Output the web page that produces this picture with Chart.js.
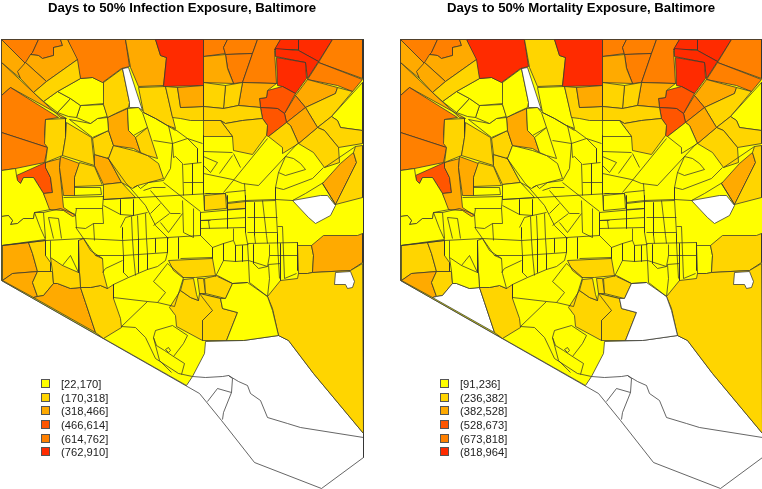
<!DOCTYPE html>
<html>
<head>
<meta charset="utf-8">
<title>Days to 50% Exposure, Baltimore</title>
<script src="https://cdn.jsdelivr.net/npm/chart.js@4/dist/chart.umd.min.js"></script>
<style>
    html, body { margin: 0; padding: 0; background: #fff; overflow: hidden; width: 762px; height: 489px; }
    canvas { position: absolute; top: 0; }
    #mapLeft { left: 0; }
    #mapRight { left: 399px; }
    .legend { position: absolute; top: 377px; font: 11.2px "Liberation Sans", Arial, sans-serif; color: #222; }
    .legend div { height: 13.7px; line-height: 14px; white-space: nowrap; }
    .legend i { display: inline-block; width: 7px; height: 7px; border: 1px solid #555; margin-right: 11px; vertical-align: 0; }
</style>
</head>
<body>
<canvas id="mapLeft" width="364" height="489"></canvas>
<canvas id="mapRight" width="364" height="489"></canvas>
<div class="legend" id="legendLeft" style="left:41px"></div>
<div class="legend" id="legendRight" style="left:440px"></div>

<script>
// Tract outlines in map units, painted in this order (x, y, x, y, ...)
const tractShapes = [
    [1,39, 363,39, 363,457, 321,488, 254,462, 221,420, 199,393, 1,280],
    [1,39, 363,39, 363,433, 313,373, 288,340, 278,335, 243,340, 205,341, 204,353, 192,376, 186,385, 1,280],
    [1,39, 38,39, 32,52, 25,63],
    [1,39, 25,63, 18,72, 20,78, 1,62],
    [1,62, 33,92, 60,117, 66,118, 10,87, 1,95],
    [1,95, 10,87, 58,117, 45,119, 44,135, 47,147, 1,132],
    [1,132, 47,147, 44,162, 15,168, 1,170],
    [16,175, 45,162, 45,167, 50,177, 52,192, 43,193, 33,177, 23,177, 20,183, 17,180],
    [1,170, 15,168, 16,175, 17,180, 20,183, 23,177, 33,177, 43,193, 50,209, 34,212, 33,218, 23,218, 17,223, 10,224, 12,220, 8,215, 1,216],
    [1,216, 8,215, 12,220, 10,224, 17,223, 23,218, 33,218, 34,212, 40,228, 45,239, 1,245],
    [45,162, 60,158, 59,167, 63,207, 75,215, 72,216, 63,210, 49,209, 43,193, 52,192, 50,177, 45,167],
    [45,119, 65,118, 65,137, 62,155, 45,162, 47,147, 44,143],
    [66,122, 91,137, 94,165, 62,155, 65,137],
    [60,156, 79,163, 74,177, 74,195, 63,195, 59,167],
    [79,162, 94,166, 102,185, 74,186, 74,177],
    [74,187, 100,187, 101,194, 74,195],
    [94,154, 108,158, 121,182, 103,184, 94,165],
    [92,138, 108,130, 113,145, 108,158, 94,154],
    [113,145, 133,150, 147,155, 158,163, 163,178, 137,185, 132,188, 121,182, 108,158],
    [103,184, 121,182, 135,197, 103,199],
    [107,117, 127,108, 128,130, 135,137, 140,152, 133,148, 113,145, 108,130],
    [127,108, 138,107, 142,112, 147,127, 133,135, 128,130],
    [147,127, 157,158, 147,155, 140,152, 135,137],
    [69,119, 90,123, 97,118, 107,117, 108,130, 92,137],
    [80,105, 103,104, 107,116, 97,118, 90,123, 76,117],
    [57,112, 70,98, 80,105, 76,117, 68,116],
    [43,101, 57,91, 70,98, 57,112],
    [57,91, 80,78, 92,77, 103,82, 104,103, 80,105, 70,98],
    [103,82, 122,68, 129,102, 128,107, 115,113, 107,117, 103,104],
    [122,68, 128,67, 142,110, 138,107, 129,107, 129,102],
    [67,39, 125,39, 129,66, 121,68, 102,82, 92,77, 80,78, 75,60],
    [125,39, 155,39, 160,55, 166,57, 163,85, 138,86, 130,67],
    [155,39, 203,39, 203,85, 163,86, 166,57, 160,55],
    [38,39, 60,39, 62,45, 53,47, 53,55, 42,58, 38,55, 30,54, 32,52],
    [60,39, 67,39, 77,59, 46,81, 25,62, 30,54, 38,55, 42,58, 53,55, 53,47, 62,45],
    [25,62, 46,81, 33,92, 20,78, 17,71],
    [77,59, 80,78, 57,91, 43,101, 33,92, 46,81],
    [203,39, 227,39, 223,47, 225,53, 203,56],
    [227,39, 257,39, 252,53, 225,54, 223,47],
    [225,54, 252,53, 242,82, 233,83, 227,67],
    [203,56, 225,54, 227,68, 233,83, 203,82],
    [257,39, 280,39, 274,50, 276,83, 242,82, 252,53],
    [280,39, 298,39, 298,49, 274,49],
    [298,39, 332,39, 318,61, 298,50],
    [275,48, 298,50, 318,61, 307,78, 305,62, 275,56],
    [276,57, 305,62, 306,78, 295,93, 282,86, 277,85],
    [332,39, 362,39, 362,78, 318,62],
    [318,62, 362,79, 352,91, 337,85, 307,79],
    [307,79, 337,87, 335,93, 305,107, 295,95],
    [337,87, 352,91, 331,116, 317,127, 305,107, 335,93],
    [362,82, 362,130, 340,127, 337,120, 331,116],
    [331,116, 337,120, 340,127, 362,130, 362,143, 338,147, 324,130, 317,127],
    [317,127, 324,130, 338,147, 339,162, 324,167, 313,152, 298,143],
    [295,95, 305,107, 286,122, 284,113],
    [305,107, 317,127, 298,143, 290,125, 286,122],
    [267,90, 282,86, 295,93, 284,113, 277,108, 260,107, 259,98, 266,97],
    [260,107, 277,108, 284,113, 286,122, 268,136, 266,135, 267,125, 262,118],
    [242,82, 276,83, 267,90, 266,97, 259,98, 260,107, 238,105],
    [225,85, 242,82, 238,105, 223,108],
    [203,82, 225,85, 223,108, 203,106],
    [138,87, 165,86, 172,116, 175,128, 167,125, 155,118, 143,112],
    [165,86, 177,87, 180,107, 203,106, 203,120, 190,120, 180,118, 172,117],
    [177,87, 203,85, 203,106, 180,107],
    [203,106, 223,108, 238,105, 260,107, 262,118, 242,120, 225,123, 220,120, 203,120],
    [220,120, 225,123, 242,120, 262,118, 267,125, 266,135, 252,154, 233,150, 232,136],
    [203,120, 220,120, 232,136, 203,136],
    [286,122, 290,125, 298,143, 282,153, 282,147, 268,136],
    [353,152, 356,162, 335,204, 322,183, 340,163],
    [355,146, 362,145, 362,197, 335,204, 356,162, 353,152],
    [2,245, 28,242, 32,253, 37,271, 12,273, 2,280],
    [2,280, 12,273, 37,271, 32,282, 37,296, 33,297],
    [28,242, 45,240, 45,255, 50,262, 50,271, 37,271, 32,253],
    [37,271, 52,271, 53,283, 43,295, 37,296, 32,282],
    [33,297, 37,296, 43,295, 53,283, 57,283, 70,288, 80,287, 85,302, 95,332],
    [80,287, 90,287, 100,285, 107,288, 113,284, 113,298, 120,318, 121,327, 103,338, 95,332, 85,302],
    [83,238, 90,250, 102,258, 103,273, 107,288, 100,285, 90,287, 80,287, 79,272, 78,240],
    [50,257, 62,265, 78,272, 79,272, 80,287, 70,288, 57,283, 53,283, 52,271],
    [180,290, 190,297, 198,300, 199,293, 220,298, 212,310, 202,320, 202,340, 176,326, 175,315, 169,307],
    [199,293, 220,298, 222,308, 237,312, 226,340, 202,340, 202,320, 212,310],
    [183,279, 193,278, 196,294, 198,300, 190,297, 180,290],
    [197,278, 203,278, 205,293, 199,293],
    [204,278, 217,275, 232,283, 225,298, 205,293],
    [168,260, 212,258, 215,275, 195,277, 182,277, 173,270],
    [204,195, 225,193, 226,208, 204,210],
    [227,203, 245,201, 245,208, 227,209],
    [297,245, 311,245, 313,255, 312,272, 307,273, 298,273],
    [311,245, 323,235, 357,235, 362,233, 362,262, 350,270, 312,272, 313,255],
    [312,272, 350,270, 362,263, 363,433, 313,373, 288,340, 278,335, 272,308, 267,296, 280,280, 297,278, 298,273, 307,273],
    [335,272, 350,271, 354,281, 352,287, 347,288, 345,284, 334,284],
    [292,200, 320,195, 327,195, 335,205, 330,215, 315,223, 308,217],
    [232,283, 247,282, 267,296, 272,310, 278,335, 243,340, 226,340, 237,312, 222,308, 220,298, 225,298]
];

const infectionDays = [
    null, 96, 690, 402, 388, 705, 672, 520, 88, 74,
    410, 262, 240, 395, 255, 120, 372, 248, 265, 230,
    420, 150, 252, 92, 110, 84, 78, 130, 236, null,
    680, 405, 835, 660, 398, 380, 244, 700, 682, 668,
    392, 710, 880, 845, 825, 860, 690, 640, 410, 258,
    140, 244, 270, 630, 395, 545, 560, 388, 262, 238,
    246, 255, 402, 268, 230, 225, 250, 405, 240, 385,
    392, 262, 240, 372, 268, 272, 230, 245, 250, 270,
    236, 244, 260, 228, 246, 238, 420, 270, null, null,
    110
];

const mortalityDays = [
    null, 150, 760, 430, 440, 790, 735, 610, 140, 160,
    470, 320, 310, 450, 300, 175, 300, 330, 210, 190,
    460, 200, 215, 120, 135, 165, 150, 180, 205, null,
    850, 290, 900, 705, 420, 400, 330, 750, 735, 700,
    440, 770, 880, 910, 840, 930, 745, 700, 480, 300,
    190, 350, 320, 700, 460, 640, 600, 450, 330, 295,
    210, 300, 440, 350, 315, 190, 190, 470, 340, 330,
    460, 320, 300, null, 345, 180, 170, 310, 360, 320,
    300, 290, 345, 190, 200, 210, 300, 330, null, null,
    null
];

// Block boundaries inside the city, drawn as outlines only
const blockLines = [
    // west side
    [2,245, 45,240, 83,238, 122,240, 167,237, 200,235],
    [63,197, 103,196],
    [75,208, 102,208], [76,208, 75,214], [103,195, 102,208, 103,223, 93,223, 85,228, 75,227],
    [34,212, 43,212, 60,208, 75,214, 76,228, 83,238],
    [43,212, 45,238], [48,217, 58,218, 61,238], [48,217, 53,238],
    [93,223, 94,240],
    [83,238, 95,255, 102,258], [95,255, 123,255, 167,252],
    [102,272, 105,268, 122,260],
    [50,257, 50,240], [62,265, 70,255, 78,272], [78,240, 78,272],
    // central grid
    [103,199, 210,193],
    [103,205, 120,214, 133,215, 147,212],
    [120,199, 120,214], [133,199, 133,215],
    [120,227, 125,217, 133,215], [122,227, 122,238, 123,255, 123,272, 128,277],
    [131,216, 132,239, 133,254, 135,275],
    [137,215, 138,238, 138,253, 138,272],
    [145,213, 146,238, 147,253, 147,269],
    [155,238, 155,252],
    [167,237, 167,252, 165,260, 157,266, 147,269, 128,277, 113,284],
    [178,237, 178,258],
    [133,187, 137,185, 140,188, 148,182, 163,180],
    [143,190, 152,187, 165,187],
    [163,182, 200,211],
    [107,157, 125,182, 145,205, 150,215, 155,225, 168,238],
    [150,190, 170,213, 180,213], [160,203, 150,213], [153,225, 169,213], [160,222, 168,232, 182,213],
    [182,200, 183,232, 193,237, 193,208],
    [200,220, 210,220],
    [143,112, 155,118, 175,130],
    [153,140, 172,143, 173,157, 175,156, 182,163, 183,195],
    [168,125, 172,143, 187,138, 202,143], [172,127, 187,138],
    [187,138, 197,148, 197,162],
    [183,164, 201,162], [192,163, 192,194], [183,182, 203,182],
    [172,143, 170,168, 163,180],
    // south of the grid
    [167,263, 183,277, 174,306, 157,302, 165,292, 153,281, 167,263],
    [113,284, 113,297, 147,301, 157,302],
    [147,301, 121,326],
    [121,326, 135,327, 145,337, 155,358, 178,373, 192,376],
    [155,330, 172,325, 187,335, 183,343, 173,356, 164,350, 156,345, 153,337, 155,330],
    [173,356, 184,363, 181,374],
    [153,337, 159,360, 171,372],
    [165,349, 168,347, 170,350, 168,352, 165,349],
    // east grid
    [200,212, 245,208, 245,201, 275,200],
    [245,195, 245,232, 247,243, 248,260, 249,282, 267,296],
    [254,202, 254,235, 255,243],
    [262,200, 266,235, 267,243],
    [275,199, 277,233, 277,243, 279,278],
    [247,217, 277,217], [247,232, 277,232], [247,243, 297,242],
    [200,220, 245,217], [200,228, 245,227],
    [208,220, 209,228],
    [200,212, 200,235, 212,247, 223,243, 233,240, 233,228],
    [227,195, 227,228],
    [233,240, 235,245, 248,244],
    [223,243, 223,260, 215,276], [212,247, 212,258],
    [223,260, 235,261, 248,260, 267,266],
    [235,245, 235,261], [242,245, 242,261],
    [253,244, 253,263, 258,268, 267,266, 269,255, 269,244],
    [269,255, 297,255], [280,243, 280,263, 268,264, 269,278, 267,296],
    [280,263, 280,280],
    [277,226, 282,226, 284,278, 296,273],
    [297,242, 297,270],
    [217,276, 232,283, 247,282],
    [180,258, 212,257],
    // north east of the grid
    [203,135, 203,193, 204,210],
    [203,151, 232,152],
    [203,156, 217,162, 210,172, 203,165],
    [203,173, 232,179, 242,183, 258,185],
    [219,173, 232,155], [233,153, 240,167],
    [267,138, 223,192],
    [225,192, 245,190], [244,183, 245,198],
    [205,193, 225,193, 227,202, 245,200, 275,199],
    [297,143, 258,185],
    [285,156, 293,158, 300,163, 305,169, 285,175, 278,172, 285,156],
    [278,172, 275,187, 275,199, 292,200, 305,193, 323,182],
    [275,187, 283,189, 312,178, 323,167],
    [324,167, 355,146],
    [322,183, 335,204],
    // south of the harbour, tracts without data
    [192,376, 205,377, 222,376, 228,375, 238,381, 247,385, 250,393, 260,400, 267,417, 287,423, 300,427, 363,437],
    [228,375, 232,378, 231,392, 217,388, 207,401],
    [231,392, 223,412, 222,419]
];

// Legend breaks and colours
const infectionBreaks = [22, 170, 318, 466, 614, 762, 910];
const mortalityBreaks = [91, 236, 382, 528, 673, 818, 964];
const binColors = ['#FFFF00', '#FFD500', '#FFAA00', '#FF5500', '#FF8000', '#FF2B00'];

const LINE_COLOR = '#333';

function toPoints(flat) {
    const pts = [];
    for (let i = 0; i < flat.length; i += 2) {
        pts.push({ x: flat[i], y: flat[i + 1] });
    }
    return pts;
}

function colorFor(value, breaks) {
    if (value === null) return '#ffffff';
    for (let i = 1; i < breaks.length; i++) {
        if (value <= breaks[i]) return binColors[i - 1];
    }
    return binColors[binColors.length - 1];
}

function buildDatasets(values, breaks) {
    const sets = [];
    tractShapes.forEach((shape, i) => {
        const pts = toPoints(shape);
        pts.push(pts[0]); // close the ring
        sets.push({
            data: pts,
            showLine: true,
            fill: 'shape',
            backgroundColor: colorFor(values[i], breaks),
            borderColor: LINE_COLOR,
            borderWidth: 0.75,
            pointRadius: 0,
            tension: 0
        });
    });
    blockLines.forEach(line => {
        sets.push({
            data: toPoints(line),
            showLine: true,
            fill: false,
            borderColor: LINE_COLOR,
            borderWidth: 0.75,
            pointRadius: 0,
            tension: 0
        });
    });
    // Chart.js paints dataset 0 last, the list above is in paint order
    return sets.reverse();
}

function drawMap(id, title, values, breaks) {
    new Chart(document.getElementById(id), {
        type: 'scatter',
        data: { datasets: buildDatasets(values, breaks) },
        options: {
            responsive: false,
            animation: false,
            events: [],
            layout: { padding: 0 },
            plugins: {
                legend: { display: false },
                tooltip: { enabled: false },
                title: {
                    display: true,
                    text: title,
                    color: '#000',
                    font: { family: '"Liberation Sans", Arial, sans-serif', size: 13.2, weight: 'bold', lineHeight: '16px' },
                    padding: { top: 0, bottom: 22 }
                }
            },
            scales: {
                x: { type: 'linear', display: false, min: -0.5, max: 363.5 },
                y: { type: 'linear', display: false, reverse: true, min: 37.5, max: 488.5 }
            }
        }
    });
}

function drawLegend(id, breaks) {
    const box = document.getElementById(id);
    binColors.forEach((color, i) => {
        const row = document.createElement('div');
        const open = i === 0 ? '[' : '(';
        row.innerHTML = '<i style="background:' + color + '"></i>' + open + breaks[i] + ',' + breaks[i + 1] + ']';
        box.appendChild(row);
    });
}

drawMap('mapLeft', 'Days to 50% Infection Exposure, Baltimore', infectionDays, infectionBreaks);
drawMap('mapRight', 'Days to 50% Mortality Exposure, Baltimore', mortalityDays, mortalityBreaks);
drawLegend('legendLeft', infectionBreaks);
drawLegend('legendRight', mortalityBreaks);
</script>
</body>
</html>
